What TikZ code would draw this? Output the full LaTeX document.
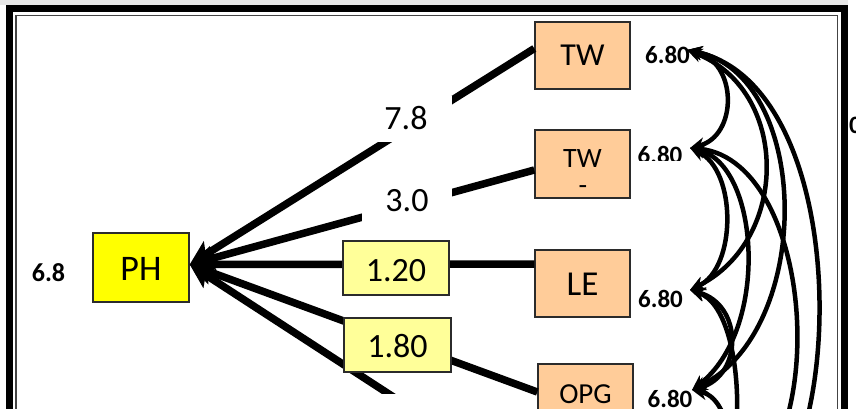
\documentclass[tikz,border=0pt]{standalone}
\usepackage{fontspec}
\setmainfont{Carlito}
\usetikzlibrary{arrows.meta}

\definecolor{phyellow}{HTML}{FFFF00}
\definecolor{paleyellow}{HTML}{FFFF99}
\definecolor{peach}{HTML}{FFCC99}
\definecolor{edgegray}{HTML}{2B2B2B}
\definecolor{topstrip}{HTML}{E8E8E8}
\definecolor{framegray}{HTML}{444444}

\newcommand\pxfont[1]{\fontsize{#1}{#1}\selectfont}

\tikzset{
  vbox/.style={draw=edgegray, line width=1.4pt, inner sep=0pt,
               minimum width=95pt, minimum height=67pt, fill=peach},
  cbox/.style={draw=edgegray, line width=1.4pt, inner sep=0pt,
               minimum width=106pt, minimum height=54pt, fill=paleyellow,
               font=\pxfont{34}},
  gapnote/.style={fill=white, inner sep=0pt, font=\pxfont{34}},
  errnum/.style={inner sep=0pt, font=\pxfont{25}\bfseries,
                 text height=15.8pt, text depth=0pt},
  regline/.style={line width=7.5pt, -{Stealth[length=24pt,width=24pt,inset=5pt]}},
  covline/.style={line width=4.5pt,
                  {Stealth[length=15pt,width=14pt]}-{Stealth[length=15pt,width=14pt]}},
}

\begin{document}
\begin{tikzpicture}[x=1pt,y=-1pt]
  \clip (0,0) rectangle (856,409);
  \fill[white] (0,0) rectangle (856,409);

  % page frame
  \fill[topstrip] (0,0) rectangle (848,5);
  \fill[black] (6,5) rectangle (848,12);
  \fill[black] (6,5) rectangle (13,409);
  \fill[black] (841,5) rectangle (848,409);
  \draw[framegray, line width=1.8pt] (16,409) -- (16,15.5) -- (837.5,15.5) -- (837.5,409);

  % variables
  \node[vbox, fill=phyellow, minimum width=96pt, minimum height=69pt,
        font=\pxfont{36}, text height=26pt, text depth=0pt] (ph) at (141,267.5) {PH};
  \node[vbox, font=\pxfont{32}, text height=20.2pt, text depth=0pt] (tw1) at (582.5,55.5) {TW};
  \node[vbox, minimum height=68pt, font=\pxfont{28}, text height=17.6pt, text depth=10pt] (tw2) at (582.5,164) {TW};
  \node[anchor=base, inner sep=0pt, font=\pxfont{28}] (tw2b) at (583,194) {-};
  \node[vbox, font=\pxfont{35}, text height=24pt, text depth=0pt] (le) at (582.5,283.5) {LE};
  \node[vbox, minimum height=68pt, font=\pxfont{29}, text height=18.3pt, text depth=8pt] (opg) at (585.5,398) {OPG};
  \coordinate (ind5) at (535,489);

  % residual values
  \node[errnum, font=\pxfont{26}\bfseries, text height=16.4pt] (phres) at (48.5,273.5) {6.8};
  \node[errnum] (r1) at (667.5,55.5) {6.80};
  \begin{scope}
    \clip (625,138) rectangle (700,160);
    \node[errnum] (r2) at (660,156) {6.80};
  \end{scope}
  \node[errnum] (r3) at (660.5,300) {6.80};
  \node[errnum] (r4) at (670,400) {6.80};
  \node[errnum, anchor=west] (rx) at (849,126) {0};

  % regression paths
  \draw[regline] ([yshift=7pt]tw1.west) -- ([yshift=3pt]ph.east);
  \draw[regline] ([yshift=-6pt]tw2.west) -- ([yshift=3pt]ph.east);
  \draw[regline] ([yshift=19.5pt]le.west) -- ([yshift=3pt]ph.east);
  \draw[regline] ([yshift=6pt]opg.west) -- ([yshift=3pt]ph.east);
  \draw[regline] (ind5) -- ([yshift=3pt]ph.east);

  % path coefficients
  \node[gapnote, minimum width=92pt, minimum height=46pt, text height=21.4pt, text depth=0pt] (c1) at (406,119) {7.8};
  \node[gapnote, minimum width=90pt, minimum height=40pt, text height=19.4pt, text depth=0pt] (c2) at (407,202) {3.0};
  \node[cbox, text height=27.4pt, text depth=0pt] (c3) at (396,268) {1.20};
  \node[cbox, minimum width=107pt, text height=24.4pt, text depth=0pt] (c4) at (397.5,345) {1.80};
  \fill[white] (345,394) rectangle (452,420);

  % residual covariances
  \coordinate (e1) at (687,50);
  \coordinate (e2) at (690,148);
  \coordinate (e3) at (690,290);
  \coordinate (e4) at (692,390);
  \coordinate (e5) at (690,520);
  \draw[covline] (e1) .. controls (738,62) and (738,136) .. (e2);
  \draw[covline] (e1) .. controls (790,90) and (790,240) .. (e3);
  \draw[covline] (e1) .. controls (812,75) and (815,330) .. (e4);
  \draw[covline] (e1) .. controls (875,90) and (845,580) .. (e5);
  \draw[covline] (e2) .. controls (737,170) and (737,268) .. (e3);
  \draw[covline] (e2) .. controls (760,165) and (770,330) .. (e4);
  \draw[covline] (e2) .. controls (820,160) and (840,490) .. (e5);
  \draw[covline] (e3) .. controls (743,305) and (743,375) .. (e4);
  \draw[covline] (e3) .. controls (750,310) and (750,500) .. (e5);
  \draw[covline] (e4) .. controls (740,400) and (740,510) .. (e5);
\end{tikzpicture}
\end{document}
